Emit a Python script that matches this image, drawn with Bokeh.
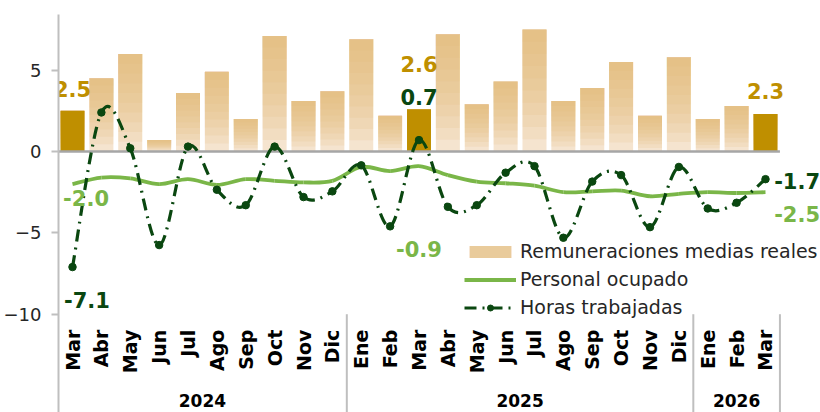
import numpy as np
from bokeh.plotting import figure
from bokeh.models import Range1d, FixedTicker, Legend, LegendItem
from bokeh.core.properties import value
from bokeh.embed import file_html
from bokeh.resources import INLINE

# ---------------- data ----------------
months = ["Mar", "Abr", "May", "Jun", "Jul", "Ago", "Sep", "Oct", "Nov", "Dic",
          "Ene", "Feb", "Mar", "Abr", "May", "Jun", "Jul", "Ago", "Sep", "Oct", "Nov", "Dic",
          "Ene", "Feb", "Mar"]
years = ["2024"] * 10 + ["2025"] * 12 + ["2026"] * 3
year_labels = ["2024", "2025", "2026"]

remuneraciones = [2.5, 4.5, 6.0, 0.7, 3.6, 4.9, 2.0, 7.1, 3.1, 3.7,
                  6.9, 2.2, 2.6, 7.2, 2.9, 4.3, 7.5, 3.1, 3.9, 5.5, 2.2, 5.8,
                  2.0, 2.8, 2.3]
personal = [-2.0, -1.6, -1.65, -2.0, -1.7, -2.05, -1.7, -1.8, -1.9, -1.8,
            -0.95, -1.2, -0.9, -1.45, -1.85, -1.95, -2.1, -2.5, -2.45, -2.4, -2.75, -2.6,
            -2.5, -2.55, -2.5]
horas = [-7.1, 2.4, 0.2, -5.75, 0.3, -2.35, -3.3, 0.3, -2.8, -2.45,
         -0.85, -4.6, 0.7, -3.4, -3.3, -1.3, -0.9, -5.3, -1.85, -1.45, -4.65, -0.95,
         -3.5, -3.15, -1.7]
highlight = [0, 12, 24]          # months whose bar is highlighted
yticks = [-10, -5, 0, 5]

# ---------------- style ----------------
FONT = "DejaVu Sans"
GOLD = "#bf8f00"
BAR_LIGHT = "#f8ecdf"
BAR_DARK = "#e3b574"
LGREEN = "#7ab648"
DGREEN = "#0a4710"
AXIS_GRAY = "#bfbfbf"
TEXT = "#262626"

x = list(range(len(months)))
n = len(x)

p = figure(frame_width=762, frame_height=398, output_backend="svg", toolbar_location=None,
           x_range=Range1d(-0.485, 25.905), y_range=Range1d(-16.04, 8.42),
           x_axis_location=None, min_border_left=58, min_border_top=14,
           min_border_right=0, min_border_bottom=0)
p.outline_line_color = None
p.xgrid.visible = False
p.ygrid.visible = False
p.background_fill_color = "white"
p.border_fill_color = "white"

ax = p.yaxis[0]
ax.ticker = FixedTicker(ticks=yticks)
ax.minor_tick_line_color = None
ax.axis_line_color = AXIS_GRAY
ax.axis_line_width = 2
ax.major_tick_line_color = AXIS_GRAY
ax.major_tick_line_width = 2
ax.major_tick_in = 0
ax.major_tick_out = 7
ax.major_label_standoff = 10
ax.major_label_text_font = FONT
ax.major_label_text_font_size = "18px"
ax.major_label_text_color = TEXT

# ---------------- bars (vertical gradient built from stacked translucent layers) ----------------
bw = 0.83
base = p.vbar(x=x, top=remuneraciones, bottom=0, width=bw, fill_color=BAR_LIGHT, line_color=None)
layers = []
NL = 10
for k in range(NL):
    frac = k / NL
    r = p.vbar(x=x, top=remuneraciones, bottom=[v * frac for v in remuneraciones], width=bw,
               fill_color=BAR_DARK, fill_alpha=0.14, line_color=None)
    layers.append(r)
p.vbar(x=[x[i] for i in highlight], top=[remuneraciones[i] for i in highlight], bottom=0,
       width=bw, fill_color=GOLD, line_color=None)

# zero line
p.segment(x0=[x[0] - 0.5], y0=[0], x1=[x[-1] + 0.5], y1=[0], line_color="#a6a6a6", line_width=2.5)


# ---------------- smooth lines (cubic Bezier through data points) ----------------
def bez(xs, ys, t=1 / 6):
    x0, y0, x1, y1, cx0, cy0, cx1, cy1 = [], [], [], [], [], [], [], []
    m = len(xs)
    for i in range(m - 1):
        a = max(i - 1, 0)
        b = min(i + 2, m - 1)
        x0.append(xs[i]); y0.append(ys[i]); x1.append(xs[i + 1]); y1.append(ys[i + 1])
        cx0.append(xs[i] + (xs[i + 1] - xs[a]) * t)
        cy0.append(ys[i] + (ys[i + 1] - ys[a]) * t)
        cx1.append(xs[i + 1] - (xs[b] - xs[i]) * t)
        cy1.append(ys[i + 1] - (ys[b] - ys[i]) * t)
    return dict(x0=x0, y0=y0, x1=x1, y1=y1, cx0=cx0, cy0=cy0, cx1=cx1, cy1=cy1)


pers = p.bezier(**bez(x, personal), line_color=LGREEN, line_width=3.8)
hor = p.bezier(**bez(x, horas), line_color=DGREEN, line_width=3.2, line_dash="12 6 2 6")
hor_pts = p.scatter(x=x, y=horas, size=7.5, marker="circle", fill_color=DGREEN, line_color=DGREEN)

# ---------------- data labels ----------------
lab_font = value(FONT)
def lab(xv, yv, txt, color, align="center"):
    p.text(x=[xv], y=[yv], text=[txt], text_color=color, text_font=lab_font,
           text_font_size="21px", text_font_style="bold", text_align=align,
           text_baseline="middle")

lab(x[0], remuneraciones[0] + 1.37, f"{remuneraciones[0]:.1f}", GOLD)
lab(x[12], remuneraciones[12] + 2.75, f"{remuneraciones[12]:.1f}", GOLD)
lab(x[24], remuneraciones[24] + 1.39, f"{remuneraciones[24]:.1f}", GOLD)
lab(x[12], horas[12] + 2.68, f"{horas[12]:.1f}", DGREEN)
lab(x[0] + 0.47, personal[0] - 0.83, f"{personal[0]:.1f}", LGREEN)
lab(x[0] + 0.5, horas[0] - 2.0, f"{horas[0]:.1f}", DGREEN)
lab(x[12], personal[12] - 5.1, f"{personal[12]:.1f}", LGREEN)
lab(x[24] + 0.3, horas[24] - 0.12, f"{horas[24]:.1f}", DGREEN, "left")
lab(x[24] + 0.3, personal[24] - 1.31, f"{personal[24]:.1f}", LGREEN, "left")

# ---------------- category axis (months, years, separators) ----------------
p.text(x=x, y=[yticks[0] - 0.95] * n, text=months, angle=np.pi / 2, text_align="right",
       text_baseline="middle", text_font=lab_font, text_font_size="19px",
       text_font_style="bold", text_color="black")
yc = [float(np.mean([i for i in x if years[i] == yl])) for yl in year_labels]
p.text(x=yc, y=[-15.3] * len(yc), text=year_labels, text_align="center", text_baseline="middle",
       text_font=lab_font, text_font_size="17px", text_font_style="bold", text_color="black")
seps = [i - 0.5 for i in x[1:] if years[i] != years[i - 1]] + [x[-1] + 0.5]
p.segment(x0=seps, y0=[yticks[0]] * len(seps), x1=seps, y1=[-16.04] * len(seps),
          line_color=AXIS_GRAY, line_width=2)

# ---------------- legend ----------------
legend = Legend(items=[
    LegendItem(label="Remuneraciones medias reales", renderers=[base] + layers[:6]),
    LegendItem(label="Personal ocupado", renderers=[pers]),
    LegendItem(label="Horas trabajadas", renderers=[hor, hor_pts]),
], location=(406, 94), background_fill_alpha=0, border_line_color=None,
    label_text_font=FONT, label_text_font_size="19px", label_text_color=TEXT,
    glyph_width=52, glyph_height=15, label_height=15, spacing=6, padding=0, margin=0,
    label_standoff=4)
p.add_layout(legend)

open("out.html", "w").write(file_html(p, INLINE))
